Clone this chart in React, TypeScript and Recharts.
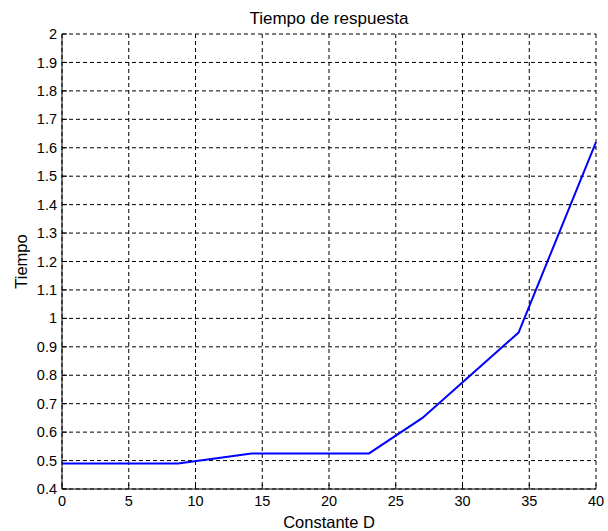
import { LineChart, Line, XAxis, YAxis, CartesianGrid } from "recharts";

// Constante D vs tiempo de respuesta
const constanteD = [0, 8.7, 14.2, 23, 27, 34.2, 40];
const tiempo = [0.49, 0.49, 0.525, 0.525, 0.65, 0.95, 1.62];

const xTicks = [0, 5, 10, 15, 20, 25, 30, 35, 40];
const yTicks = [0.4, 0.5, 0.6, 0.7, 0.8, 0.9, 1, 1.1, 1.2, 1.3, 1.4, 1.5, 1.6, 1.7, 1.8, 1.9, 2];

const data = constanteD.map((d, i) => ({ d, t: tiempo[i] }));

const FONT = "'Liberation Sans', Arial, sans-serif";
const TICK_LEN = 5;

const fmt = (v: number) => String(Number(v.toFixed(1)));

const BottomTick = ({ x, y, payload }: any) => (
  <g>
    <line x1={x} x2={x} y1={y - 6} y2={y - 6 - TICK_LEN} stroke="#000" />
    <text x={x} y={y} dy="0.75em" textAnchor="middle" fontSize={14.5} fontFamily={FONT} fill="#000">
      {fmt(payload.value)}
    </text>
  </g>
);

const LeftTick = ({ x, y, payload }: any) => (
  <g>
    <line x1={x + 5} x2={x + 5 + TICK_LEN} y1={y} y2={y} stroke="#000" />
    <text x={x} y={y} dy="0.35em" textAnchor="end" fontSize={14.5} fontFamily={FONT} fill="#000">
      {fmt(payload.value)}
    </text>
  </g>
);

const TopTick = ({ x, y }: any) => <line x1={x} x2={x} y1={y} y2={y + TICK_LEN} stroke="#000" />;
const RightTick = ({ x, y }: any) => <line x1={x} x2={x - TICK_LEN} y1={y} y2={y} stroke="#000" />;

export default function App() {
  return (
    <div style={{ position: "absolute", left: 0, top: 0, width: 608, height: 531, background: "#fff" }}>
      <div
        style={{
          position: "absolute",
          left: 62,
          width: 534,
          top: 9,
          textAlign: "center",
          fontFamily: FONT,
          fontSize: 17,
          color: "#000",
          lineHeight: "20px",
        }}
      >
        Tiempo de respuesta
      </div>
      <LineChart width={608} height={531} data={data} margin={{ top: 34, right: 12, left: 0, bottom: 0 }}>
        <CartesianGrid stroke="#000" strokeDasharray="4 3" strokeWidth={1} />
        <XAxis
          dataKey="d"
          type="number"
          domain={[0, 40]}
          ticks={xTicks}
          height={42}
          tickSize={0}
          tickMargin={6}
          tickLine={false}
          axisLine={{ stroke: "#000" }}
          tick={<BottomTick />}
          interval={0}
          label={{ value: "Constante D", position: "insideBottom", offset: 3, fontSize: 16.5, fontFamily: FONT, fill: "#000" }}
        />
        <XAxis
          xAxisId="top"
          orientation="top"
          type="number"
          domain={[0, 40]}
          ticks={xTicks}
          height={0}
          tickSize={0}
          tickMargin={0}
          tickLine={false}
          axisLine={{ stroke: "#000" }}
          tick={<TopTick />}
          interval={0}
        />
        <YAxis
          type="number"
          domain={[0.4, 2]}
          ticks={yTicks}
          width={62}
          tickSize={0}
          tickMargin={5}
          tickLine={false}
          axisLine={{ stroke: "#000" }}
          tick={<LeftTick />}
          interval={0}
          label={{
            value: "Tiempo",
            angle: -90,
            position: "insideLeft",
            offset: 21,
            fontSize: 16.5,
            fontFamily: FONT,
            fill: "#000",
            style: { textAnchor: "middle" },
          }}
        />
        <YAxis
          yAxisId="right"
          orientation="right"
          type="number"
          domain={[0.4, 2]}
          ticks={yTicks}
          width={0}
          tickSize={0}
          tickMargin={0}
          tickLine={false}
          axisLine={{ stroke: "#000" }}
          tick={<RightTick />}
          interval={0}
        />
        <Line
          type="linear"
          dataKey="t"
          stroke="#0000ff"
          strokeWidth={2}
          dot={false}
          isAnimationActive={false}
        />
      </LineChart>
    </div>
  );
}
